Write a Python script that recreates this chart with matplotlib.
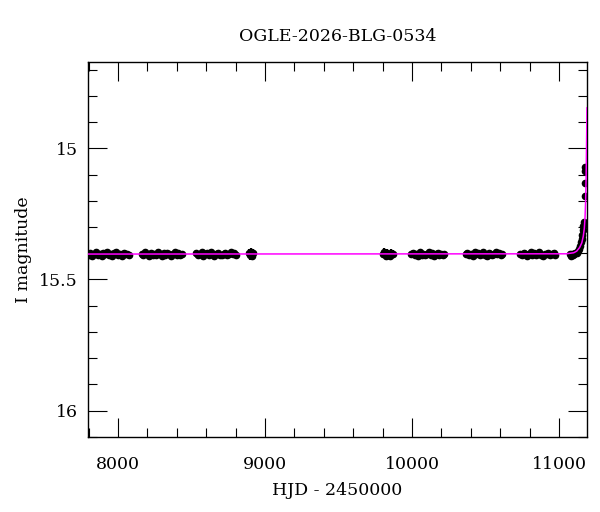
import matplotlib
matplotlib.use("Agg")
import matplotlib.pyplot as plt
from matplotlib.ticker import MultipleLocator

# ---- data ----
title = "OGLE-2026-BLG-0534"
xlabel = "HJD - 2450000"
ylabel = "I magnitude"

s1_t = [7800, 7812, 7825, 7838, 7850, 7862, 7875, 7888, 7900, 7912, 7925, 7938,
        7950, 7962, 7975, 7988, 8000, 8012, 8025, 8038, 8050, 8062, 8075]
s1_m = [15.405, 15.398, 15.410, 15.401, 15.395, 15.407, 15.403, 15.412, 15.399, 15.404,
        15.396, 15.408, 15.402, 15.411, 15.400, 15.397, 15.406, 15.403, 15.409, 15.398,
        15.404, 15.401, 15.407]
s2_t = [8160, 8172, 8185, 8198, 8210, 8222, 8235, 8248, 8260, 8272, 8285, 8298,
        8310, 8322, 8335, 8348, 8360, 8372, 8385, 8398, 8410, 8422, 8435]
s2_m = [15.402, 15.408, 15.397, 15.404, 15.410, 15.399, 15.405, 15.401, 15.407, 15.396,
        15.403, 15.409, 15.400, 15.406, 15.398, 15.404, 15.411, 15.402, 15.397, 15.405,
        15.400, 15.408, 15.403]
s3_t = [8530, 8542, 8555, 8568, 8580, 8592, 8605, 8618, 8630, 8642, 8655, 8668,
        8680, 8692, 8705, 8718, 8730, 8742, 8755, 8768, 8780, 8792, 8800]
s3_m = [15.399, 15.406, 15.402, 15.397, 15.409, 15.403, 15.400, 15.407, 15.396, 15.404,
        15.410, 15.401, 15.398, 15.405, 15.408, 15.402, 15.399, 15.406, 15.403, 15.397,
        15.404, 15.400, 15.405]
s4_t = [8893, 8898, 8903, 8908, 8913, 8918]
s4_m = [15.400, 15.408, 15.395, 15.404, 15.410, 15.399]
s5_t = [9800, 9810, 9820, 9830, 9840, 9850, 9860, 9868]
s5_m = [15.402, 15.396, 15.409, 15.400, 15.405, 15.411, 15.398, 15.404]
s6_t = [9995, 10006, 10018, 10030, 10042, 10054, 10066, 10078, 10090, 10102, 10114,
        10126, 10138, 10150, 10162, 10174, 10186, 10198, 10210, 10218]
s6_m = [15.404, 15.399, 15.407, 15.402, 15.410, 15.397, 15.405, 15.401, 15.408, 15.403,
        15.396, 15.406, 15.400, 15.409, 15.402, 15.398, 15.405, 15.401, 15.407, 15.403]
s7_t = [10365, 10377, 10389, 10401, 10413, 10425, 10437, 10449, 10461, 10473, 10485,
        10497, 10509, 10521, 10533, 10545, 10557, 10569, 10581, 10593, 10605, 10612]
s7_m = [15.403, 15.398, 15.406, 15.401, 15.409, 15.396, 15.404, 15.400, 15.407, 15.402,
        15.397, 15.405, 15.410, 15.399, 15.403, 15.408, 15.401, 15.396, 15.404, 15.400,
        15.406, 15.402]
s8_t = [10735, 10747, 10759, 10771, 10783, 10795, 10807, 10819, 10831, 10843, 10855,
        10867, 10879, 10891, 10903, 10915, 10927, 10939, 10951, 10963, 10972]
s8_m = [15.401, 15.407, 15.398, 15.404, 15.410, 15.402, 15.396, 15.405, 15.400, 15.408,
        15.403, 15.397, 15.406, 15.412, 15.401, 15.404, 15.399, 15.407, 15.402, 15.398,
        15.405]
s9_t = [11072, 11080, 11088, 11096, 11104, 11112, 11120, 11128, 11135, 11142, 11148,
        11153, 11158, 11162, 11166, 11170, 11176, 11177, 11178, 11178]
s9_m = [15.404, 15.409, 15.401, 15.406, 15.403, 15.400, 15.398, 15.392, 15.385, 15.372,
        15.358, 15.345, 15.330, 15.312, 15.295, 15.280, 15.180, 15.130, 15.085, 15.070]

season_t = [s1_t, s2_t, s3_t, s4_t, s5_t, s6_t, s7_t, s8_t, s9_t]
season_m = [s1_m, s2_m, s3_m, s4_m, s5_m, s6_m, s7_m, s8_m, s9_m]
season_err = [0.011, 0.011, 0.011, 0.016, 0.015, 0.011, 0.011, 0.011, 0.011]

model_t = [7790, 11050, 11100, 11120, 11140, 11155, 11165, 11172, 11177, 11181,
           11184, 11186, 11188, 11190]
model_m = [15.403, 15.402, 15.398, 15.392, 15.378, 15.360, 15.335, 15.305, 15.262,
           15.200, 15.120, 15.040, 14.950, 14.845]

xticks_major = [8000, 9000, 10000, 11000]
yticks_major = [15.0, 15.5, 16.0]
ytick_labels = ["15", "15.5", "16"]

# ---- figure ----
plt.rcParams['font.family'] = ['DejaVu Serif']
fig = plt.figure(figsize=(6.0, 5.12), dpi=100)
ax = fig.add_axes([0.146, 0.147, 0.833, 0.732])

for t, m, e in zip(season_t, season_m, season_err):
    ax.errorbar(t, m, yerr=e, fmt='o', color='black', ms=5.5, mew=0,
                elinewidth=1.6, capsize=0, zorder=2)

ax.plot(model_t, model_m, color='#ff00ff', lw=1.1, zorder=3)

ax.set_xlim(7793, 11193)
ax.set_ylim(16.1, 14.67)

ax.set_xticks(xticks_major)
ax.set_xticklabels([str(v) for v in xticks_major])
ax.xaxis.set_minor_locator(MultipleLocator(200))
ax.set_yticks(yticks_major)
ax.set_yticklabels(ytick_labels)
ax.yaxis.set_minor_locator(MultipleLocator(0.1))

ax.tick_params(which='both', direction='in', top=True, right=True, width=0.8,
               colors='black', labelsize=12.5)
ax.tick_params(which='major', length=13.7)
ax.tick_params(which='minor', length=6.8)
ax.tick_params(axis='x', which='major', pad=14)
ax.tick_params(axis='y', which='major', pad=7)
for sp in ax.spines.values():
    sp.set_linewidth(1.0)

ax.set_xlabel(xlabel, fontsize=12.5, labelpad=6)
ax.set_ylabel(ylabel, fontsize=12.5, labelpad=5)
ax.set_title(title, fontsize=12.5, pad=15)

fig.savefig("out.png", dpi=100)
